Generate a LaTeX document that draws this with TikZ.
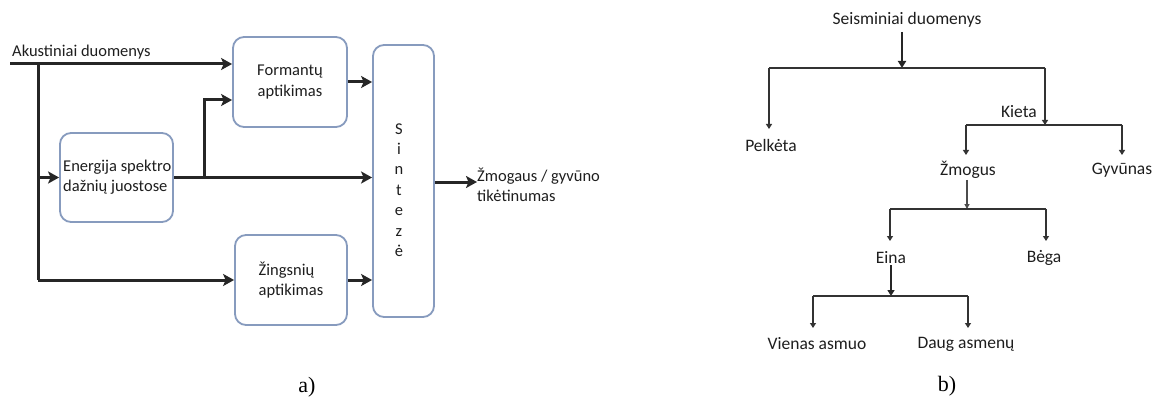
\documentclass[tikz,border=0pt]{standalone}
\usepackage{fontspec}
\setmainfont{Carlito}
\newfontfamily\capfont{Liberation Serif}
\usetikzlibrary{arrows.meta}
\definecolor{boxline}{RGB}{135,155,190}
\definecolor{ink}{RGB}{30,30,30}
\tikzset{
  blk/.style={draw=boxline, line width=1.8pt, rounded corners=11pt, fill=white},
  lbl/.style={font=\fontsize{16.5}{20.2}\selectfont, text=ink, inner sep=0pt, align=left},
  tlbl/.style={font=\fontsize{17.5}{21}\selectfont, text=ink, inner sep=1pt},
  flow/.style={line width=3pt, draw=black!85, -{Stealth[length=11pt,width=12pt,inset=2.5pt]}},
  flowline/.style={line width=3pt, draw=black!85},
  thin/.style={line width=2.1pt, draw=black!80},
  drop/.style={line width=2.1pt, draw=black!80, -{Triangle[length=5pt,width=6pt]}},
  capt/.style={font=\capfont\fontsize{22}{26}\selectfont, inner sep=0pt}
}
\begin{document}
\begin{tikzpicture}[x=1pt,y=-1pt]
\useasboundingbox (0,0) rectangle (1154,401);

% ---------- a) acoustic processing chain ----------
\node[lbl, anchor=west] (akust) at (12,52) {Akustiniai duomenys};
\node[blk, minimum width=114pt, minimum height=90pt] (form) at (290,82) {};
\node[lbl, align=center] (formt) at (form) {Formantų\\aptikimas};
\node[blk, minimum width=113pt, minimum height=89pt] (ener) at (116.5,177.5) {};
\node[lbl, align=left, anchor=west] (enert) at (63,177) {Energija spektro\\dažnių juostose};
\node[blk, minimum width=112pt, minimum height=90pt] (zing) at (291,280) {};
\node[lbl, align=left] (zingt) at (zing) {Žingsnių\\aptikimas};
\node[blk, minimum width=61pt, minimum height=272pt] (sint) at (403.5,181) {};
\node[lbl, align=center, font=\fontsize{16.5}{20.4}\selectfont] (sintt) at (399,190)
  {S\\i\\n\\t\\e\\z\\ė};
\node[lbl, anchor=west] (out) at (477,185) {Žmogaus / gyvūno\\tikėtinumas};

\coordinate (in) at (10,64);
\coordinate (split) at (38,64);
\coordinate (tap) at (204,177.5);

\draw[flow] (in) -- (in -| form.west);
\draw[flowline] (split) -- (split |- zing);
\draw[flow] (split |- zing) -- (zing.west);
\draw[flow] (split |- ener) -- (ener.west);
\draw[flow] (ener.east) -- (ener.east -| sint.west);
\draw[flow] (tap) -- (204,100) -- (form.west |- 0,100);
\draw[flow] (form.east) -- (form.east -| sint.west);
\draw[flow] (zing.east) -- (zing.east -| sint.west);
\draw[flow] (sint.east |- 0,182) -- (out.west |- 0,182);

\node[capt] (capa) at (307,387) {a)};

% ---------- b) seismic classification tree ----------
\node[tlbl] (seis) at (907,20) {Seisminiai duomenys};
\node[tlbl] (pelk) at (771,145) {Pelkėta};
\node[tlbl, anchor=east] (kieta) at (1038,112) {Kieta};
\node[tlbl] (zmog) at (968,170) {Žmogus};
\node[tlbl] (gyv) at (1122,170) {Gyvūnas};
\node[tlbl] (eina) at (891,258) {Eina};
\node[tlbl] (bega) at (1044,258) {Bėga};
\node[tlbl] (vien) at (817,344) {Vienas asmuo};
\node[tlbl] (daug) at (966,344) {Daug asmenų};

% level 1
\coordinate (b1m) at (902,68);
\coordinate (b1l) at (769,68);
\coordinate (b1r) at (1045,68);
\draw[line width=2.6pt, draw=black!85, -{Triangle[length=7pt,width=8pt]}] (b1m |- 0,32) -- (b1m);
\draw[thin] (b1l) -- (b1r);
\draw[drop] (b1l) -- (b1l |- 0,129);
% level 2
\coordinate (b2m) at (1045,125);
\coordinate (b2l) at (966,125);
\coordinate (b2r) at (1122,125);
\draw[drop] (b1r) -- (b2m);
\draw[thin] (b2l) -- (b2r);
\draw[drop] (b2l) -- (b2l |- 0,155);
\draw[drop] (b2r) -- (b2r |- 0,155);
% level 3
\coordinate (b3m) at (967,209);
\coordinate (b3l) at (890,209);
\coordinate (b3r) at (1046,209);
\draw[line width=1.2pt, draw=black!70, -{Triangle[length=5pt,width=5pt]}] (b3m |- zmog.south) -- (b3m);
\draw[thin] (b3l) -- (b3r);
\draw[drop] (b3l) -- (b3l |- 0,241);
\draw[drop] (b3r) -- (b3r |- 0,241);
% level 4
\coordinate (b4m) at (891,296);
\coordinate (b4l) at (813,296);
\coordinate (b4r) at (968,296);
\draw[line width=2.6pt, draw=black!85, -{Triangle[length=6pt,width=7pt]}] (eina.south) -- (b4m);
\draw[thin] (b4l) -- (b4r);
\draw[drop] (b4l) -- (b4l |- 0,328);
\draw[drop] (b4r) -- (b4r |- 0,328);

\node[capt] (captb) at (947,386) {b)};
\end{tikzpicture}
\end{document}
